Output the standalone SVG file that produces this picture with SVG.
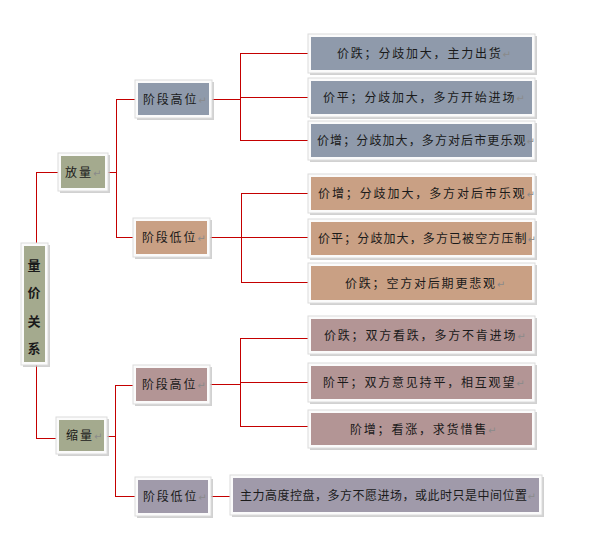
<svg xmlns="http://www.w3.org/2000/svg" width="595" height="533" viewBox="0 0 595 533">
<style>
.sh{fill:#bdbdbd;opacity:.7}
.fr{fill:#fbfbfb;stroke:#dcdcdc;stroke-width:1}
.g{fill:#a4aa8e}.b{fill:#8f9aab}.t{fill:#c9a084}.m{fill:#b39595}.p{fill:#a09aaa}
text{font-family:"Noto Sans CJK SC","Noto Sans",sans-serif;font-size:12px;fill:#1a1a1a}
.r{font-weight:bold;font-size:13px;text-anchor:middle}
.ret{fill:#8a8a8a;font-size:10px;letter-spacing:0;font-family:"DejaVu Sans",sans-serif}
.c{fill:none;stroke:#c40000;stroke-width:1;shape-rendering:crispEdges}
</style>
<g id="connectors">
<path class="c" d="M36.5 243V172.5H58M36.5 365V438.5H56"/>
<path class="c" d="M108 172.5H116.5M135 99.5H116.5V237.5H133"/>
<path class="c" d="M212 99.5H240.5M308 53.5H240.5V140.5H308M240.5 97.5H308"/>
<path class="c" d="M210 237.5H241.5M308 193.5H241.5V282.5H308M241.5 237.5H308"/>
<path class="c" d="M107 436.5H115.5M133 385.5H115.5V496.5H135"/>
<path class="c" d="M210 384.5H240.5M308 338.5H240.5V426.5H308M240.5 382.5H308"/>
<path class="c" d="M211 496.5H230"/>
</g>
<g id="root">
<rect class="sh" x="23" y="245" width="27" height="122"/><rect class="fr" x="21" y="243" width="27" height="122"/><rect class="g" x="24" y="246" width="21" height="116"/>
<text class="r" x="34" y="270">量</text><text class="r" x="34" y="297">价</text><text class="r" x="34" y="326">关</text><text class="r" x="34" y="353">系</text>
</g>
<g id="fangliang">
<rect class="sh" x="60" y="155" width="50" height="38"/><rect class="fr" x="58" y="153" width="50" height="38"/><rect class="g" x="61" y="156" width="44" height="32"/>
<text x="65" y="177" letter-spacing="2">放量<tspan class="ret">↵</tspan></text>
</g>
<g id="suoliang">
<rect class="sh" x="58" y="419" width="51" height="37"/><rect class="fr" x="56" y="417" width="51" height="37"/><rect class="g" x="59" y="420" width="45" height="31"/>
<text x="66" y="440" letter-spacing="2">缩量<tspan class="ret">↵</tspan></text>
</g>
<g id="gaowei1">
<rect class="sh" x="137" y="82" width="77" height="38"/><rect class="fr" x="135" y="80" width="77" height="38"/><rect class="b" x="138" y="83" width="71" height="32"/>
<text x="143" y="104" letter-spacing="1.8">阶段高位<tspan class="ret">↵</tspan></text>
</g>
<g id="diwei1">
<rect class="sh" x="135" y="220" width="77" height="39"/><rect class="fr" x="133" y="218" width="77" height="39"/><rect class="t" x="136" y="221" width="71" height="33"/>
<text x="142" y="242" letter-spacing="1.8">阶段低位<tspan class="ret">↵</tspan></text>
</g>
<g id="gaowei2">
<rect class="sh" x="135" y="367" width="77" height="39"/><rect class="fr" x="133" y="365" width="77" height="39"/><rect class="m" x="136" y="368" width="71" height="33"/>
<text x="142" y="389" letter-spacing="1.8">阶段高位<tspan class="ret">↵</tspan></text>
</g>
<g id="diwei2">
<rect class="sh" x="137" y="479" width="76" height="39"/><rect class="fr" x="135" y="477" width="76" height="39"/><rect class="p" x="138" y="480" width="70" height="33"/>
<text x="143" y="501" letter-spacing="1.8">阶段低位<tspan class="ret">↵</tspan></text>
</g>
<g id="leaf1">
<rect class="sh" x="310" y="36" width="227" height="39"/><rect class="fr" x="308" y="34" width="227" height="39"/><rect class="b" x="311" y="37" width="221" height="33"/>
<text x="337" y="58" letter-spacing="1.8">价跌；分歧加大，主力出货<tspan class="ret">↵</tspan></text>
</g>
<g id="leaf2">
<rect class="sh" x="310" y="80" width="227" height="39"/><rect class="fr" x="308" y="78" width="227" height="39"/><rect class="b" x="311" y="81" width="221" height="33"/>
<text x="323" y="102" letter-spacing="1.8">价平；分歧加大，多方开始进场<tspan class="ret">↵</tspan></text>
</g>
<g id="leaf3">
<rect class="sh" x="310" y="123" width="227" height="39"/><rect class="fr" x="308" y="121" width="227" height="39"/><rect class="b" x="311" y="124" width="221" height="33"/>
<text x="317" y="145" letter-spacing="1.1">价增；分歧加大，多方对后市更乐观<tspan class="ret">↵</tspan></text>
</g>
<g id="leaf4">
<rect class="sh" x="310" y="176" width="227" height="39"/><rect class="fr" x="308" y="174" width="227" height="39"/><rect class="t" x="311" y="177" width="221" height="33"/>
<text x="318" y="198" letter-spacing="1.9">价增；分歧加大，多方对后市乐观<tspan class="ret">↵</tspan></text>
</g>
<g id="leaf5">
<rect class="sh" x="310" y="221" width="227" height="39"/><rect class="fr" x="308" y="219" width="227" height="39"/><rect class="t" x="311" y="222" width="221" height="33"/>
<text x="318" y="243" letter-spacing="1.1">价平；分歧加大，多方已被空方压制<tspan class="ret">↵</tspan></text>
</g>
<g id="leaf6">
<rect class="sh" x="310" y="265" width="227" height="40"/><rect class="fr" x="308" y="263" width="227" height="40"/><rect class="t" x="311" y="266" width="221" height="34"/>
<text x="345" y="288" letter-spacing="1.8">价跌；空方对后期更悲观<tspan class="ret">↵</tspan></text>
</g>
<g id="leaf7">
<rect class="sh" x="310" y="318" width="227" height="38"/><rect class="fr" x="308" y="316" width="227" height="38"/><rect class="m" x="311" y="319" width="221" height="32"/>
<text x="324" y="340" letter-spacing="1.8">价跌；双方看跌，多方不肯进场<tspan class="ret">↵</tspan></text>
</g>
<g id="leaf8">
<rect class="sh" x="310" y="365" width="227" height="39"/><rect class="fr" x="308" y="363" width="227" height="39"/><rect class="m" x="311" y="366" width="221" height="33"/>
<text x="323" y="387" letter-spacing="1.8">阶平；双方意见持平，相互观望<tspan class="ret">↵</tspan></text>
</g>
<g id="leaf9">
<rect class="sh" x="310" y="412" width="227" height="38"/><rect class="fr" x="308" y="410" width="227" height="38"/><rect class="m" x="311" y="413" width="221" height="32"/>
<text x="350" y="434" letter-spacing="1.8">阶增；看涨，求货惜售<tspan class="ret">↵</tspan></text>
</g>
<g id="leaf10">
<rect class="sh" x="232" y="477" width="312" height="40"/><rect class="fr" x="230" y="475" width="312" height="40"/><rect class="p" x="233" y="478" width="306" height="34"/>
<text x="240" y="500" letter-spacing="0.5">主力高度控盘，多方不愿进场，或此时只是中间位置<tspan class="ret">↵</tspan></text>
</g>
</svg>
